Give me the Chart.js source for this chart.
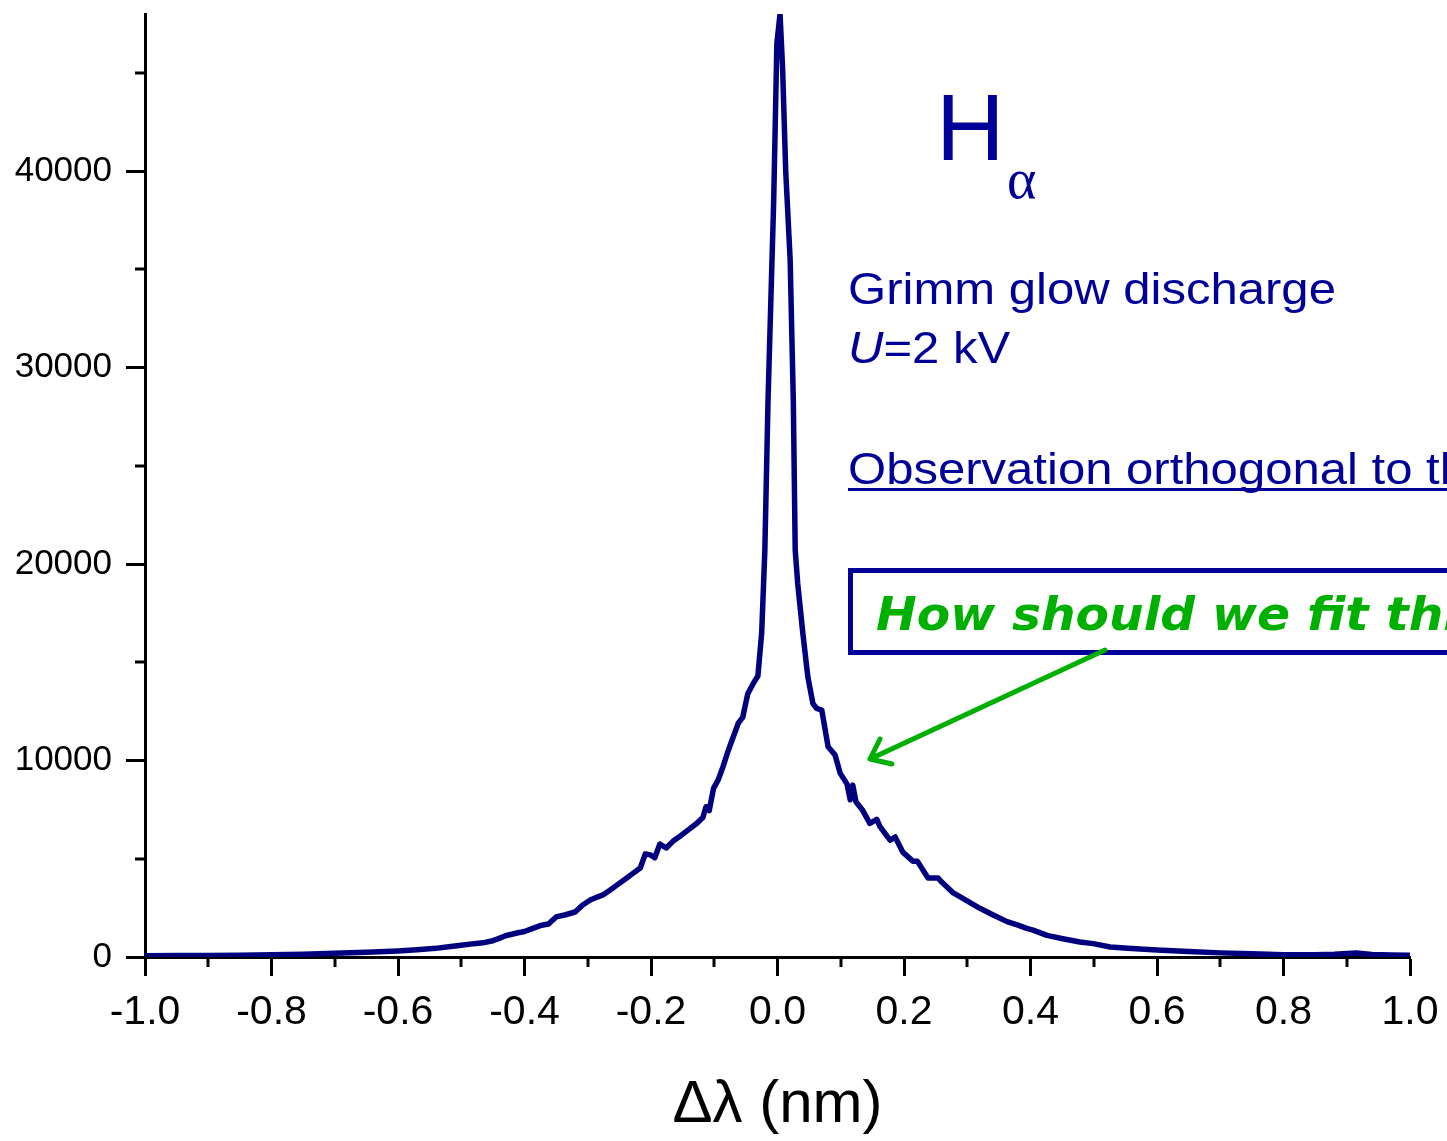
<!DOCTYPE html>
<html>
<head>
<meta charset="utf-8">
<script src="https://cdn.jsdelivr.net/npm/chart.js@4/dist/chart.umd.min.js"></script>
<style>
  html, body { margin: 0; padding: 0; background: #fff; }
  #halpha { display: block; }
</style>
</head>
<body>
<canvas id="halpha" width="1447" height="1141"></canvas>
<script>
// H-alpha line profile
const deltaLambda = [
  -1.00, -0.95, -0.90, -0.85, -0.80, -0.75, -0.70, -0.65, -0.60, -0.57,
  -0.54, -0.52, -0.50, -0.48, -0.466, -0.45, -0.44, -0.43, -0.412, -0.40,
  -0.39, -0.375, -0.362, -0.350, -0.335, -0.320, -0.308, -0.296, -0.285, -0.276,
  -0.265, -0.254, -0.240, -0.228, -0.217, -0.209, -0.201, -0.194, -0.186, -0.176,
  -0.165, -0.154, -0.140, -0.127, -0.118, -0.113, -0.108, -0.101, -0.094, -0.086,
  -0.078, -0.070, -0.062, -0.055, -0.047, -0.037, -0.031, -0.025, -0.020, -0.015,
  -0.010, -0.006, -0.001, 0.004, 0.008, 0.013, 0.020, 0.025, 0.028, 0.032,
  0.040, 0.048, 0.056, 0.062, 0.070, 0.080, 0.091, 0.099, 0.110, 0.115,
  0.119, 0.124, 0.134, 0.146, 0.157, 0.162, 0.178, 0.186, 0.198, 0.214,
  0.221, 0.238, 0.254, 0.260, 0.278, 0.293, 0.320, 0.341, 0.363, 0.379,
  0.394, 0.404, 0.426, 0.451, 0.478, 0.499, 0.526, 0.56, 0.60, 0.65,
  0.70, 0.75, 0.80, 0.85, 0.88, 0.915, 0.94, 0.97, 1.00
];
const intensity = [
  60, 70, 80, 95, 110, 140, 190, 240, 310, 370,
  440, 520, 600, 680, 720, 830, 950, 1080, 1220, 1300,
  1420, 1600, 1680, 2040, 2150, 2290, 2650, 2900, 3050, 3160,
  3400, 3660, 3980, 4270, 4530, 5250, 5200, 5050, 5750, 5550,
  5900, 6150, 6500, 6820, 7100, 7650, 7450, 8600, 9000, 9700,
  10500, 11200, 11900, 12200, 13400, 14000, 14300, 16500, 20700, 28300,
  34000, 38500, 46500, 48000, 45300, 40000, 35500, 28300, 20700, 19000,
  16500, 14250, 12900, 12650, 12570, 10700, 10280, 9360, 8800, 8000,
  8750, 7900, 7500, 6800, 7000, 6640, 5950, 6110, 5340, 4880,
  4880, 4020, 4020, 3800, 3260, 2980, 2480, 2140, 1800, 1630,
  1460, 1370, 1100, 930, 760, 680, 510, 430, 360, 280,
  210, 160, 110, 110, 140, 200, 130, 100, 90
];

const xTicks = [-1.0, -0.8, -0.6, -0.4, -0.2, 0.0, 0.2, 0.4, 0.6, 0.8, 1.0];
const xMinorTicks = [-0.9, -0.7, -0.5, -0.3, -0.1, 0.1, 0.3, 0.5, 0.7, 0.9];
const yTicks = [0, 10000, 20000, 30000, 40000];
const yMinorTicks = [5000, 15000, 25000, 35000, 45000];

const points = deltaLambda.map((x, i) => ({ x: x, y: intensity[i] }));

const textBlue = "#000099";
const lineNavy = "#00007f";
const arrowGreen = "#00b000";

// minor ticks + annotations (text, box, arrow)
const extrasPlugin = {
  id: "extras",
  afterDraw(chart) {
    const ctx = chart.ctx;
    const xs = chart.scales.x;
    const ys = chart.scales.y;
    const area = chart.chartArea;

    ctx.save();
    ctx.strokeStyle = "#000";
    ctx.lineWidth = 3;
    ctx.beginPath();
    xMinorTicks.forEach(v => {
      const px = Math.round(xs.getPixelForValue(v));
      ctx.moveTo(px, area.bottom);
      ctx.lineTo(px, area.bottom + 10);
    });
    yMinorTicks.forEach(v => {
      const py = Math.round(ys.getPixelForValue(v));
      ctx.moveTo(area.left, py);
      ctx.lineTo(area.left - 10, py);
    });
    ctx.stroke();
    ctx.restore();

    ctx.save();
    ctx.fillStyle = textBlue;
    ctx.textBaseline = "alphabetic";
    ctx.textAlign = "left";

    ctx.font = "95px 'Liberation Sans', Arial, sans-serif";
    ctx.fillText("H", 936, 160);
    ctx.font = "56px 'Liberation Serif', 'Times New Roman', serif";
    ctx.fillText("\u03b1", 1007, 198);

    function stretched(text, x, y, font, sx) {
      ctx.save();
      ctx.translate(x, y);
      ctx.scale(sx, 1);
      ctx.font = font;
      ctx.fillText(text, 0, 0);
      const w = ctx.measureText(text).width * sx;
      ctx.restore();
      return w;
    }

    const sans = "45px 'Liberation Sans', Arial, sans-serif";
    const sansIt = "italic 45px 'Liberation Sans', Arial, sans-serif";
    stretched("Grimm glow discharge", 848, 304, sans, 1.09);
    const uw = stretched("U", 848, 363, sansIt, 1.09);
    stretched("=2 kV", 848 + uw, 363, sans, 1.09);
    const ow = stretched("Observation orthogonal to the cathode", 848, 484, sans, 1.09);
    ctx.fillRect(848, 488, ow, 3);

    // boxed question
    ctx.strokeStyle = textBlue;
    ctx.lineWidth = 5;
    ctx.strokeRect(850.5, 570.5, 700, 82);
    ctx.fillStyle = arrowGreen;
    stretched("How should we fit this?", 876, 630, "bold italic 47px 'DejaVu Sans', Verdana, sans-serif", 1.035);

    // arrow
    ctx.strokeStyle = arrowGreen;
    ctx.lineWidth = 5;
    ctx.lineCap = "round";
    ctx.lineJoin = "round";
    ctx.beginPath();
    ctx.moveTo(1105, 650);
    ctx.lineTo(870, 759);
    ctx.moveTo(880, 739);
    ctx.lineTo(870, 759);
    ctx.lineTo(892, 764);
    ctx.stroke();
    ctx.restore();
  }
};

new Chart(document.getElementById("halpha"), {
  type: "line",
  data: {
    datasets: [
      {
        data: points,
        borderColor: lineNavy,
        borderWidth: 5.5,
        borderJoinStyle: "round",
        borderCapStyle: "round",
        pointRadius: 0,
        tension: 0,
        fill: false
      }
    ]
  },
  options: {
    responsive: false,
    animation: false,
    layout: {
      padding: { top: 14, right: 37, left: 0, bottom: 0 }
    },
    plugins: {
      legend: { display: false },
      tooltip: { enabled: false }
    },
    scales: {
      x: {
        type: "linear",
        min: -1,
        max: 1,
        afterBuildTicks: scale => {
          scale.ticks = xTicks.map(v => ({ value: v }));
        },
        afterFit: scale => {
          scale.height = 184;
          scale.paddingLeft = 0;
          scale.paddingRight = 0;
        },
        grid: {
          drawOnChartArea: false,
          drawTicks: true,
          tickLength: 19,
          tickWidth: 3,
          tickColor: "#000"
        },
        border: { display: true, color: "#000", width: 3 },
        ticks: {
          color: "#000",
          font: { family: "'Liberation Sans', Arial, sans-serif", size: 41 },
          padding: 12,
          maxRotation: 0,
          autoSkip: false,
          callback: value => Number(value).toFixed(1)
        },
        title: {
          display: true,
          text: "\u0394\u03bb (nm)",
          color: "#000",
          font: { family: "'Liberation Sans', Arial, sans-serif", size: 60 },
          padding: { top: 0, bottom: 0 }
        }
      },
      y: {
        min: 0,
        max: 48000,
        afterBuildTicks: scale => {
          scale.ticks = yTicks.map(v => ({ value: v }));
        },
        afterFit: scale => {
          scale.width = 145;
          scale.paddingTop = 0;
          scale.paddingBottom = 0;
        },
        grid: {
          drawOnChartArea: false,
          drawTicks: true,
          tickLength: 19,
          tickWidth: 3,
          tickColor: "#000"
        },
        border: { display: true, color: "#000", width: 3 },
        ticks: {
          color: "#000",
          font: { family: "'Liberation Sans', Arial, sans-serif", size: 35 },
          padding: 14,
          callback: value => String(value)
        }
      }
    }
  },
  plugins: [extrasPlugin]
});
</script>
</body>
</html>
